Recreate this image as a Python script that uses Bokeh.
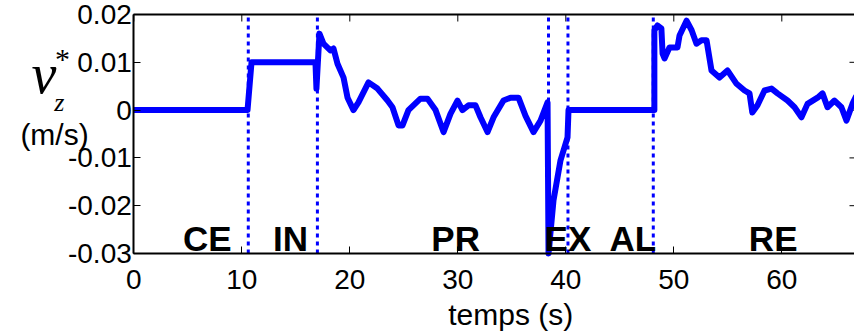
from bokeh.plotting import figure
from bokeh.models import Range1d, LinearAxis, FixedTicker, Label, ColumnDataSource
from bokeh.core.properties import value
from bokeh.embed import file_html
from bokeh.resources import INLINE

# ---- data ----
t = [0, 10.53, 10.9, 16.82, 16.91, 17.19, 17.56, 18.2, 18.49, 18.86, 19.42, 19.79,
     20.34, 20.8, 21.73, 22.56, 23.49, 23.95, 24.51, 24.88, 25.43, 26.54, 27.19,
     27.94, 28.68, 29.32, 29.97, 30.43, 30.99, 31.64, 32.1, 32.75, 33.31, 34.23,
     34.88, 35.62, 36.27, 37.01, 37.66, 38.31, 38.4, 38.86, 39.51, 40.16, 40.25,
     48.2, 48.2, 48.48, 48.85, 48.96, 49.14, 49.6, 50.34, 50.53, 51.18, 51.65,
     52.1, 52.56, 53.03, 53.49, 54.23, 54.97, 55.81, 56.55, 57.01, 57.27, 57.75,
     58.4, 59.05, 59.6, 60.53, 61.18, 61.82, 62.38, 63.31, 63.77, 64.23, 64.88,
     65.52, 65.99, 66.54, 66.9]
vz = [0, 0, 0.01, 0.01, 0.0045, 0.016, 0.0139, 0.0125, 0.0129, 0.0097, 0.0068, 0.0026,
      0.0, 0.0016, 0.0058, 0.0045, 0.002, 0.0006, -0.0032, -0.0032, 0.0, 0.0024, 0.0024,
      0.0, -0.0046, -0.0008, 0.002, 0.0, 0.001, 0.001, -0.0015, -0.0046, -0.0015, 0.002,
      0.0026, 0.0026, -0.0012, -0.0046, -0.0022, 0.0016, -0.03, -0.0189, -0.0105, -0.0057, 0.0,
      0.0, 0.0167, 0.0177, 0.0171, 0.0118, 0.0108, 0.0131, 0.0131, 0.0156, 0.0187, 0.0167,
      0.0139, 0.0146, 0.0146, 0.0083, 0.0068, 0.0083, 0.0055, 0.0041, 0.0035, -0.0005, 0.001,
      0.0041, 0.0045, 0.0035, 0.002, 0.0006, -0.0015, 0.0013, 0.0026, 0.0035, 0.0006, 0.002,
      0.0006, -0.0022, 0.0013, 0.003]

phase_bounds = [10.6, 17.0, 38.4, 40.2, 48.1]
phase_names = ["CE", "IN", "PR", "EX", "AL", "RE"]
phase_x = [6.8, 14.5, 29.8, 40.2, 46.2, 59.2]

x_ticks = [0, 10, 20, 30, 40, 50, 60]
y_ticks = [-0.03, -0.02, -0.01, 0.0, 0.01, 0.02]
y_tick_labels = ["-0.03", "-0.02", "-0.01", "0", "0.01", "0.02"]

# axes box (data limits) and the full canvas extent around it
X0, X1 = 0, 66.73
Y0, Y1 = -0.03, 0.02
VIEW_X = (-12.343, 66.731)
VIEW_Y = (-0.046318, 0.022929)

FONT = "Liberation Sans"
SERIF = "Liberation Serif"

p = figure(width=854, height=331, output_backend="svg", toolbar_location=None,
           x_range=Range1d(*VIEW_X), y_range=Range1d(*VIEW_Y),
           min_border=0, min_border_left=0, min_border_right=0,
           min_border_top=0, min_border_bottom=0,
           background_fill_color="white", border_fill_color="white")
p.grid.visible = False
p.outline_line_color = None

xa = p.xaxis[0]
ya = p.yaxis[0]
for ax in (xa, ya):
    ax.major_tick_in = 7
    ax.major_tick_out = 0
    ax.minor_tick_line_color = None
    ax.axis_line_width = 2
    ax.axis_line_color = "black"
    ax.major_tick_line_color = "black"
    ax.major_label_text_font = FONT
    ax.major_label_text_font_size = "28px"
    ax.major_label_text_color = "black"

xa.ticker = FixedTicker(ticks=x_ticks)
xa.fixed_location = Y0
xa.bounds = (X0, 80)
xa.major_label_standoff = 16
ya.ticker = FixedTicker(ticks=y_ticks)
ya.fixed_location = X0
ya.bounds = (Y0, Y1)
ya.major_label_overrides = {v: s for v, s in zip(y_ticks, y_tick_labels)}
ya.major_label_standoff = 2

# top frame line (axis without ticks/labels)
top = LinearAxis(ticker=FixedTicker(ticks=[]), major_tick_in=0, major_tick_out=0,
                 minor_tick_line_color=None, axis_line_color="black", axis_line_width=2,
                 fixed_location=Y1, bounds=(X0, 80))
p.add_layout(top, "above")

# inward ticks on the top and right edges (from the tick arrays)
tick_dx = 5 / 10.8
tick_dy = 7 / 4780
p.segment(x0=x_ticks, y0=[Y1] * len(x_ticks), x1=x_ticks, y1=[Y1 - tick_dy] * len(x_ticks),
          line_color="black", line_width=1)
p.segment(x0=[X1] * len(y_ticks), y0=y_ticks, x1=[X1 - tick_dx] * len(y_ticks), y1=y_ticks,
          line_color="black", line_width=1)

# phase boundaries
p.segment(x0=phase_bounds, y0=[Y0] * len(phase_bounds), x1=phase_bounds,
          y1=[Y1] * len(phase_bounds), line_color="blue", line_dash="4 4", line_width=3)

p.line(t, vz, line_color="blue", line_width=6, line_join="round")

src = ColumnDataSource(dict(x=phase_x, y=[Y0] * len(phase_x), text=phase_names))
p.text("x", "y", text="text", source=src, text_font=value(FONT), text_font_style="bold",
       text_font_size="35px", text_align="center", text_baseline="bottom",
       y_offset=4, text_color="black")


def lab(x, y, text, font, size, style="normal", align="center"):
    p.add_layout(Label(x=x, y=y, text=text, text_font=font, text_font_size=size,
                       text_font_style=style, text_align=align, text_baseline="bottom",
                       text_color="black"))


# y label  v_z^*  (m/s)
lab(-9.47, 0.00103, "v", SERIF, "56px", "italic", "left")
lab(-6.6, 0.0073, "*", SERIF, "30px")
lab(-6.9, -0.00136, "z", SERIF, "26px", "italic")
lab(-7.34, -0.00858, "(m/s)", FONT, "30px")
# x label
lab(34.9, -0.04613, "temps (s)", FONT, "30px")

open("out.html", "w").write(file_html(p, INLINE))
